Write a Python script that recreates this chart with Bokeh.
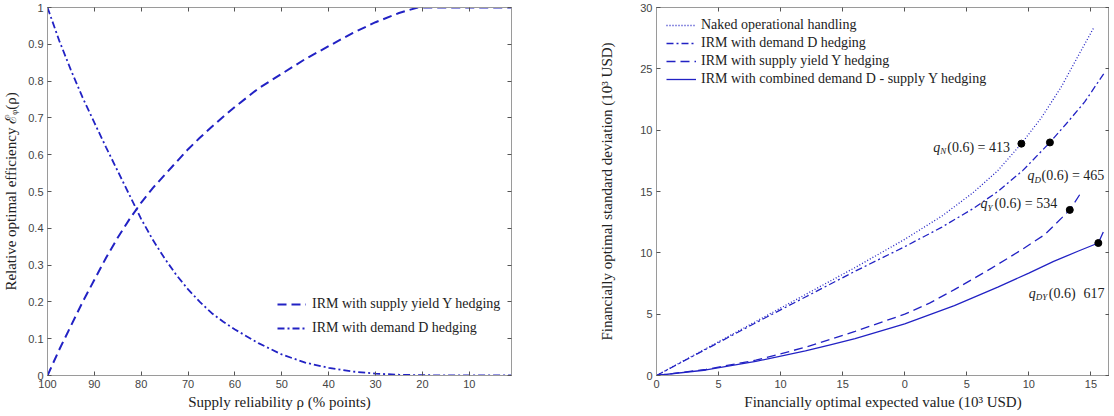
from bokeh.plotting import figure
from bokeh.models import FixedTicker, LinearAxis, Legend, LegendItem, Range1d, ColumnDataSource
from bokeh.layouts import row
from bokeh.embed import file_html
from bokeh.resources import INLINE
from bokeh.core.properties import value

# ---------------- data: left chart ----------------
rho = [100, 97.5, 95, 92.5, 90, 87.5, 85, 82.5, 80, 77.5, 75, 72.5, 70, 67.5, 65, 62.5, 60,
       55, 50, 45, 40, 35, 30, 25, 21, 20, 15, 10, 5, 1]
eff_supply_Y = [0, 0.07, 0.135, 0.20, 0.26, 0.32, 0.375, 0.425, 0.47, 0.51, 0.545, 0.58,
                0.615, 0.646, 0.675, 0.703, 0.73, 0.78, 0.82, 0.86, 0.895, 0.93, 0.96,
                0.985, 1.0, 1.0, 1.0, 1.0, 1.0, 1.0]
eff_demand_D = [1.0, 0.91, 0.83, 0.755, 0.687, 0.62, 0.555, 0.49, 0.425, 0.368, 0.318,
                0.273, 0.234, 0.2, 0.17, 0.146, 0.125, 0.088, 0.057, 0.035, 0.021, 0.011,
                0.005, 0.002, 0.001, 0.001, 0.0, 0.0, 0.0, 0.0]
left_xticks = [100, 90, 80, 70, 60, 50, 40, 30, 20, 10]
left_yticks = [0, 0.1, 0.2, 0.3, 0.4, 0.5, 0.6, 0.7, 0.8, 0.9, 1]
left_ylabels = ["0", "0.1", "0.2", "0.3", "0.4", "0.5", "0.6", "0.7", "0.8", "0.9", "1"]

# ---------------- data: right chart ----------------
naked_x = [0, 4, 8, 12, 16, 20, 23, 25.5, 27.5, 29.4, 31, 32.6, 34, 35.2]
naked_y = [0, 2.2, 4.4, 6.6, 8.8, 11.1, 13.0, 14.9, 16.7, 18.9, 21.0, 23.5, 26.1, 28.3]
demD_x = [0, 4, 8, 12, 16, 20, 23, 25.5, 27.5, 29.5, 31.7, 33, 34.5, 36.1]
demD_y = [0, 2.15, 4.3, 6.4, 8.5, 10.5, 12.1, 13.6, 15.0, 16.7, 19.0, 20.5, 22.3, 24.7]
supY_x = [0, 4, 8, 12, 16, 20, 22, 24, 27, 29.5, 31.3, 33.3, 34.2]
supY_y = [0, 0.5, 1.25, 2.3, 3.6, 5.0, 5.9, 7.0, 8.75, 10.3, 11.5, 13.5, 14.9]
comb_x = [0, 4, 8, 12, 14, 16, 20, 24, 27.5, 30, 32, 34, 35.6, 36.0]
comb_y = [0, 0.45, 1.15, 2.0, 2.5, 3.0, 4.2, 5.7, 7.2, 8.35, 9.3, 10.15, 10.8, 11.7]
dots_x = [29.4, 31.7, 33.3, 35.6]
dots_y = [18.9, 19.0, 13.5, 10.8]
right_xticks = [0, 5, 10, 15, 20, 25, 30, 35]
right_xlabels = ["0", "5", "10", "15", "0", "5", "10", "15"]
right_yticks = [0, 5, 10, 15, 20, 25, 30]
right_ylabels = ["0", "5", "10", "15", "10", "25", "30"]

BLUE = "#2222c4"
SERIF = "Liberation Serif"
SANS = "Liberation Sans"
AXC = "#9a9a9a"
TICKC = "#444444"


def style_axis(ax, ticks, labels, show_labels=True):
    ax.ticker = FixedTicker(ticks=ticks)
    ax.major_label_overrides = {t: l for t, l in zip(ticks, labels)}
    ax.axis_line_color = AXC
    ax.major_tick_line_color = "#555555"
    ax.major_tick_in = 4
    ax.major_tick_out = 0
    ax.minor_tick_line_color = None
    ax.major_label_text_font = SANS
    ax.major_label_text_color = TICKC
    if show_labels:
        ax.major_label_text_font_size = "11px"
        ax.major_label_standoff = 4
    else:
        ax.major_label_text_font_size = "0px"
        ax.major_label_standoff = 0
    ax.axis_label_text_font = SERIF
    ax.axis_label_text_font_style = "normal"
    ax.axis_label_text_font_size = "15px"
    ax.axis_label_text_color = "#222222"


# ---------------- left figure ----------------
p1 = figure(frame_width=464, frame_height=368, output_backend="svg", toolbar_location=None,
            x_range=Range1d(100, 1), y_range=Range1d(0, 1),
            min_border_left=45, min_border_right=48, min_border_top=7, min_border_bottom=34)
p1.grid.visible = False
p1.outline_line_color = AXC
p1.xaxis.axis_label = "Supply reliability ρ (% points)"
p1.yaxis.axis_label = "Relative optimal efficiency ℰᵩ(ρ)"
style_axis(p1.xaxis[0], left_xticks, [str(t) for t in left_xticks])
style_axis(p1.yaxis[0], left_yticks, left_ylabels)
p1.xaxis.axis_label_standoff = 3
p1.yaxis.axis_label_standoff = 6
top1 = LinearAxis()
style_axis(top1, left_xticks, [""] * len(left_xticks), show_labels=False)
p1.add_layout(top1, "above")
right1 = LinearAxis()
style_axis(right1, left_yticks, [""] * len(left_yticks), show_labels=False)
p1.add_layout(right1, "right")

rY = p1.line(rho, eff_supply_Y, line_color=BLUE, line_width=2, line_dash="9 5")
rD = p1.line(rho, eff_demand_D, line_color=BLUE, line_width=1.8, line_dash="7 3 2 3")
leg1 = Legend(items=[LegendItem(label="IRM with supply yield Y hedging", renderers=[rY]),
                     LegendItem(label="IRM with demand D hedging", renderers=[rD])],
              location=(230, 37), padding=0, margin=0, spacing=4,
              label_height=20, glyph_height=20, glyph_width=29, label_standoff=6,
              label_text_font=SERIF, label_text_font_size="14px", label_text_color="#222222",
              border_line_alpha=0, background_fill_alpha=0)
p1.add_layout(leg1, "center")

# ---------------- right figure ----------------
p2 = figure(frame_width=453, frame_height=368, output_backend="svg", toolbar_location=None,
            x_range=Range1d(0, 36.5), y_range=Range1d(0, 30),
            min_border_left=97, min_border_right=0, min_border_top=7, min_border_bottom=34)
p2.grid.visible = False
p2.outline_line_color = AXC
p2.xaxis.axis_label = "Financially optimal expected value (10³ USD)"
p2.yaxis.axis_label = "Financially optimal standard deviation (10³ USD)"
style_axis(p2.xaxis[0], right_xticks, right_xlabels)
style_axis(p2.yaxis[0], right_yticks, right_ylabels)
p2.xaxis.axis_label_standoff = 3
p2.yaxis.axis_label_standoff = 22
top2 = LinearAxis()
style_axis(top2, right_xticks, [""] * len(right_xticks), show_labels=False)
p2.add_layout(top2, "above")
right2 = LinearAxis()
style_axis(right2, right_yticks, [""] * len(right_yticks), show_labels=False)
p2.add_layout(right2, "right")

rN = p2.line(naked_x, naked_y, line_color=BLUE, line_width=1.3, line_dash="1 2")
rDD = p2.line(demD_x, demD_y, line_color=BLUE, line_width=1.3, line_dash="7 3 2 3")
rYY = p2.line(supY_x, supY_y, line_color=BLUE, line_width=1.3, line_dash="9 5")
rC = p2.line(comb_x, comb_y, line_color=BLUE, line_width=1.3)
p2.scatter(dots_x, dots_y, size=7, color="black")

leg2 = Legend(items=[LegendItem(label="Naked operational handling", renderers=[rN]),
                     LegendItem(label="IRM with demand D hedging", renderers=[rDD]),
                     LegendItem(label="IRM with supply yield Y hedging", renderers=[rYY]),
                     LegendItem(label="IRM with combined demand D - supply Y hedging", renderers=[rC])],
              location=(10, 287), padding=0, margin=0, spacing=0,
              label_height=18, glyph_height=18, glyph_width=30, label_standoff=5,
              label_text_font=SERIF, label_text_font_size="14px", label_text_color="#222222",
              border_line_alpha=0, background_fill_alpha=0)
p2.add_layout(leg2, "center")

# annotations: q_x(0.6) = value
ann_x = [22.3, 29.9, 26.1, 30.0]
ann_y = [18.6, 16.3, 14.0, 6.7]
ann_sub = ["N", "D", "Y", "DY"]
ann_rest = ["(0.6) = 413", "(0.6) = 465", "(0.6) = 534", "(0.6)"]
sub_w = [7, 7, 7, 13]
src = ColumnDataSource(dict(x=ann_x, y=ann_y, q=["q"] * 4, sub=ann_sub, rest=ann_rest,
                            xo=[w + 7 for w in sub_w]))
p2.text(x="x", y="y", text="q", source=src, text_font=value(SERIF), text_font_style="italic",
        text_font_size="14px", text_baseline="middle", text_align="left", text_color="#222222")
p2.text(x="x", y="y", text="sub", source=src, x_offset=7, y_offset=4, text_font=value(SERIF),
        text_font_style="italic", text_font_size="9px", text_baseline="middle",
        text_align="left", text_color="#222222")
p2.text(x="x", y="y", text="rest", source=src, x_offset="xo", text_font=value(SERIF),
        text_font_size="14px", text_baseline="middle", text_align="left", text_color="#222222")
val_x = [34.4]
val_y = [6.7]
p2.text(val_x, val_y, text=["617"], text_font=value(SERIF), text_font_size="14px",
        text_baseline="middle", text_align="left", text_color="#222222")

layout = row(p1, p2, spacing=0)
open("out.html", "w").write(file_html(layout, INLINE))
